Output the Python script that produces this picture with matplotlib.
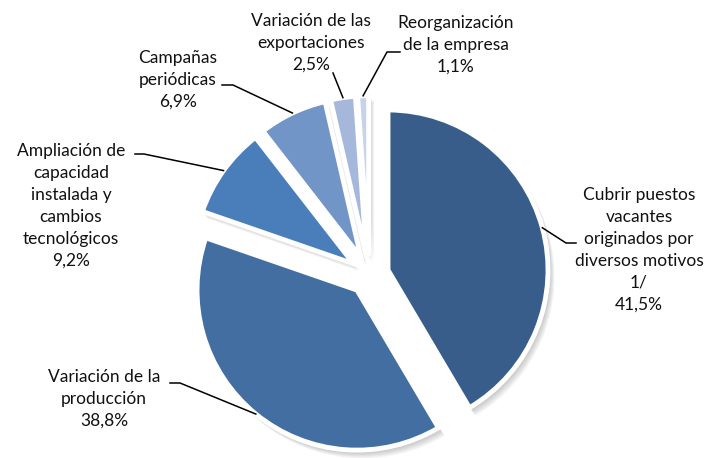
import matplotlib.pyplot as plt
import matplotlib.patches as mpatches
import numpy as np

plt.rcParams['font.family'] = ['Lato', 'DejaVu Sans']

categorias = [
    "Cubrir puestos\nvacantes\noriginados por\ndiversos motivos\n1/",
    "Variación de la\nproducción",
    "Ampliación de\ncapacidad\ninstalada y\ncambios\ntecnológicos",
    "Campañas\nperiódicas",
    "Variación de las\nexportaciones",
    "Reorganización\nde la empresa",
]
porcentajes = [41.5, 38.8, 9.2, 6.9, 2.5, 1.1]
colores = ["#385D8A", "#436EA2", "#4A7EBB", "#7295C7", "#A5B8DB", "#C6D3EA"]

# label centre and leader end (stub start, stub end) in pixel coords (y down)
pos_texto = [(639, 250), (104, 399), (71, 206), (178, 80), (311, 43), (456, 45)]
stub = [((576, 243), (566, 243)), ((170, 383), (180, 383)), ((135, 154), (144, 154)),
        ((222, 85), (233, 85)), ((333, 73), (333, 73)), ((400, 52), (387, 52))]

W, H = 706, 458
centro = (369.3, H - 275.1)
radio = 160
explosion = 19.4


def fy(y):
    return H - y


fig = plt.figure(figsize=(W / 100, H / 100), dpi=100)
ax = fig.add_axes([0, 0, 1, 1])

wedges, _ = ax.pie(
    porcentajes,
    colors=colores,
    startangle=90,
    counterclock=False,
    center=centro,
    radius=radio,
    explode=[explosion] * len(porcentajes),
    wedgeprops=dict(edgecolor="white", linewidth=3.5),
)

# soft shadow
for w in wedges:
    for k in range(1, 9):
        s = mpatches.Wedge((w.center[0] + 0.7 * k, w.center[1] - 0.9 * k), w.r + 1,
                           w.theta1, w.theta2, facecolor="#707070",
                           edgecolor="none", alpha=0.06, zorder=0)
        ax.add_patch(s)

for w, cat, pct, (tx, ty), (s0, s1) in zip(wedges, categorias, porcentajes, pos_texto, stub):
    ang = np.deg2rad((w.theta1 + w.theta2) / 2)
    px = w.center[0] + w.r * np.cos(ang)
    py = w.center[1] + w.r * np.sin(ang)
    ax.plot([s0[0], s1[0], px], [fy(s0[1]), fy(s1[1]), py], color="black", lw=1.1, zorder=5)
    ax.text(tx, fy(ty), f"{cat}\n{pct:.1f}%".replace(".", ","), ha="center", va="center",
            multialignment="center", fontsize=12.5, color="#111111", linespacing=1.45)

ax.set_xlim(0, W)
ax.set_ylim(0, H)
ax.set_aspect("equal")
ax.axis("off")

fig.savefig("out.png", dpi=100)
